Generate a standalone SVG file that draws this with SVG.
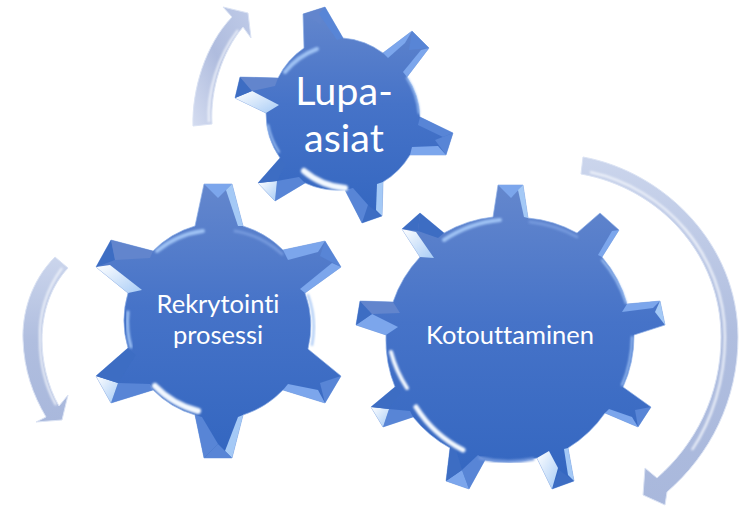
<svg xmlns="http://www.w3.org/2000/svg" width="755" height="506" viewBox="0 0 755 506">
<style>
.body{fill:url(#gearFill);stroke:#8fb0e6;stroke-width:.7}
.w{fill:url(#whiteFacet)}
.l{fill:#7ba6ec}
.p{fill:#a4c9f6}
.m{fill:#5885d6}
.u{fill:#6285cd}
.d{fill:#3d6dc3}
.rim{fill:none;stroke-linecap:round;filter:url(#soft)}
.rw{stroke:#f2f8ff}
.rl{stroke:#9fc2f4}
.rm{stroke:#7499dd}
.arrow{stroke:#dbe3f4;stroke-width:1}
.glow{fill:none;stroke:#f3f6fc;stroke-width:2;filter:url(#soft)}
text{font-family:"Lato","Liberation Sans",sans-serif;fill:#fff;text-anchor:middle;font-variant-ligatures:none}
.t{font-size:25.5px}
</style>
<defs>
<linearGradient id="gearFill" x1="0" y1="0" x2="0" y2="1"><stop offset="0" stop-color="#6487cd"/><stop offset=".45" stop-color="#4673c8"/><stop offset="1" stop-color="#3366c0"/></linearGradient>
<linearGradient id="whiteFacet" x1="0" y1="0" x2="1" y2="1"><stop offset="0" stop-color="#ffffff"/><stop offset="1" stop-color="#a8ccf6"/></linearGradient>
<linearGradient id="arrowUp" x1="0" y1="1" x2="1" y2="0"><stop offset="0" stop-color="#d4dcf0"/><stop offset=".5" stop-color="#afbcde"/><stop offset="1" stop-color="#bfcbe8"/></linearGradient>
<linearGradient id="arrowDown" x1="0" y1="0" x2="0" y2="1"><stop offset="0" stop-color="#cbd5ec"/><stop offset=".5" stop-color="#b0bedf"/><stop offset="1" stop-color="#a9b8dc"/></linearGradient>
<filter id="soft" x="-30%" y="-30%" width="160%" height="160%"><feGaussianBlur stdDeviation=".8"/></filter>
<filter id="tiny" x="-5%" y="-5%" width="110%" height="110%"><feGaussianBlur stdDeviation=".35"/></filter>
</defs>
<g id="connectors">
<g id="arrow-top">
<path class="arrow" fill="url(#arrowUp)" d="M193,126C192,90 205,45 232,17L223,7L248,13L251,38L243,27C222,52 210,90 212,124Z"/>
<path class="glow" d="M209,122C207,92 218,56 238,30"/>
</g>
<g id="arrow-left">
<path class="arrow" fill="url(#arrowDown)" d="M55,257C30,282 22,315 23,340C24,370 33,395 46,417L36,422L62,420L68,395L59,406C47,385 42,360 42,340C42,310 52,285 68,268Z"/>
<path class="glow" d="M62,268C46,290 39,315 40,340C40,362 45,385 56,405"/>
</g>
<g id="arrow-right">
<path class="arrow" fill="url(#arrowDown)" d="M583,157C665,172 738,245 738,337C738,400 710,455 667,492L665,505L643,495L645,468L657,478C695,445 721,395 721,337C721,255 660,188 581,174Z"/>
<path class="glow" d="M590,172C665,188 725,255 725,337C725,380 712,420 692,450"/>
</g>
</g>
<g id="gear-lupa">
<path class="body" d="M304,48L303,14L325,7L343,38A78,78 0 0 1 383,53L412,31L429,48L407,77A78,78 0 0 1 420,117L453,133L446,155L410,155A78,78 0 0 1 383,182L382,216L362,223L345,190A78,78 0 0 1 305,183L275,201L258,183L280,158A78,78 0 0 1 266,113L235,98L240,77L278,78A78,78 0 0 1 304,48Z"/>
<g filter="url(#tiny)">
<polygon class="u" points="303,14 325,7 320,24"/><polygon class="m" points="325,7 319,14 337,40 343,38"/>
<polygon class="l" points="412,31 405,43 388,58 383,53"/><polygon class="m" points="412,31 429,48 409,50"/><polygon class="l" points="429,48 421,50 403,72 407,77"/>
<polygon class="m" points="453,133 443,137 418,125 420,117"/><polygon class="m" points="453,133 446,155 435,140"/><polygon class="l" points="446,155 438,146 412,147 410,155"/>
<polygon class="p" points="382,216 376,210 377,184 383,182"/><polygon class="d" points="382,216 362,223 368,205"/><polygon class="m" points="362,223 368,205 353,188 345,190"/>
<polygon class="m" points="275,201 277,181 299,177 305,183"/><polygon class="w" points="275,201 258,183 277,181"/><polygon class="d" points="258,183 277,181 286,164 280,158"/>
<polygon class="w" points="235,98 252,91 279,105 266,113"/><polygon class="d" points="235,98 240,77 252,91"/><polygon class="u" points="240,77 252,91 275,86 278,78"/>
</g>
<path class="rim rl" stroke-width="4" d="M285,72A74,74 0 0 1 317,49"/>
<path class="rim rl" stroke-width="2" d="M407,78A76,76 0 0 1 419,113"/>
<path class="rim rw" stroke-width="6" d="M304,171A72,72 0 0 0 345,188"/>
<path class="rim rl" stroke-width="2" d="M268,125A76,76 0 0 0 279,152"/>
<text x="344" y="105" font-size="39.5">Lupa-</text>
<text x="344" y="152" font-size="39.5">asiat</text>
</g>
<g id="gear-rekrytointi">
<path class="body" d="M195,226L204,184L232,184L243,226A96,96 0 0 1 283,250L325,241L341,267L305,293A96,96 0 0 1 308,349L341,376L325,403L283,390A96,96 0 0 1 243,415L232,458L204,458L195,415A96,96 0 0 1 153,390L111,403L96,376L128,348A96,96 0 0 1 128,293L96,267L111,240L153,251A96,96 0 0 1 195,226Z"/>
<g filter="url(#tiny)">
<polygon class="l" points="204,184 232,184 218,198"/><polygon class="p" points="232,184 226,190 238,226 243,226"/>
<polygon class="l" points="283,250 325,241 318,252 288,260"/><polygon class="m" points="325,241 341,267 320,256"/><polygon class="l" points="341,267 332,263 300,289 305,293"/>
<polygon class="m" points="341,376 325,403 320,383"/><polygon class="l" points="325,403 318,390 288,384 283,390"/>
<polygon class="p" points="232,458 225,451 238,417 243,415"/><polygon class="m" points="232,458 204,458 218,444"/><polygon class="m" points="204,458 218,444 202,417 195,415"/>
<polygon class="m" points="111,403 118,383 150,384 153,390"/><polygon class="w" points="111,403 96,376 118,383"/><polygon class="d" points="96,376 118,383 136,355 128,348"/>
<polygon class="w" points="96,267 110,265 142,290 128,293"/><polygon class="d" points="96,267 111,240 115,260"/><polygon class="u" points="111,240 115,260 150,258 153,251"/>
</g>
<path class="rim rl" stroke-width="4" d="M157,251A92,92 0 0 1 203,231"/>
<path class="rim rm" stroke-width="3" d="M235,231A92,92 0 0 1 282,254"/>
<path class="rim rl" stroke-width="2" d="M308,295A93,93 0 0 1 312,345"/>
<path class="rim rw" stroke-width="6" d="M155,386A92,92 0 0 0 198,411"/>
<path class="rim rl" stroke-width="3" d="M128,312A92,92 0 0 0 131,347"/>
<text class="t" x="218" y="313">Rekrytointi</text>
<text class="t" x="218" y="344">prosessi</text>
</g>
<g id="gear-kotouttaminen">
<path class="body" d="M493,217L498,185L523,185L528,218A124,124 0 0 1 577,233L600,213L619,230L602,257A124,124 0 0 1 627,304L660,301L665,325L634,335A124,124 0 0 1 623,387L651,407L638,427L605,413A124,124 0 0 1 568,448L574,481L552,489L537,458A124,124 0 0 1 485,460L469,489L446,481L450,448A124,124 0 0 1 413,417L383,427L371,407L395,387A124,124 0 0 1 386,335L356,325L360,301L393,302A124,124 0 0 1 420,257L402,229L420,213L444,233A124,124 0 0 1 493,217Z"/>
<g filter="url(#tiny)">
<polygon class="l" points="498,185 523,185 511,198"/><polygon class="p" points="523,185 518,190 524,217 528,218"/>
<polygon class="l" points="619,230 612,231 598,255 602,257"/>
<polygon class="l" points="660,301 653,308 622,312 627,304"/><polygon class="p" points="660,301 665,325 655,312"/>
<polygon class="m" points="651,407 638,427 635,410"/><polygon class="l" points="638,427 632,417 609,409 605,413"/>
<polygon class="p" points="574,481 568,475 564,449 568,448"/><polygon class="d" points="574,481 552,489 559,470"/><polygon class="w" points="552,489 558,468 549,451 537,458"/>
<polygon class="m" points="469,489 462,470 478,455 485,460"/><polygon class="l" points="469,489 446,481 462,470"/><polygon class="d" points="446,481 462,470 455,446 450,448"/>
<polygon class="m" points="383,427 389,409 410,411 413,417"/><polygon class="w" points="383,427 371,407 389,409"/><polygon class="d" points="371,407 389,409 401,392 395,387"/>
<polygon class="l" points="356,325 372,314 398,327 386,335"/><polygon class="d" points="356,325 360,301 372,314"/><polygon class="u" points="360,301 372,314 400,313 393,302"/>
<polygon class="w" points="402,229 416,232 434,258 420,257"/><polygon class="d" points="402,229 420,213 418,231"/><polygon class="d" points="420,213 418,231 438,238 444,233"/>
</g>
<path class="rim rl" stroke-width="4" d="M444,240A120,120 0 0 1 500,220"/>
<path class="rim rm" stroke-width="3" d="M530,222A120,120 0 0 1 577,237"/>
<path class="rim rl" stroke-width="2" d="M602,260A122,122 0 0 1 626,303"/>
<path class="rim rl" stroke-width="2" d="M632,337A122,122 0 0 1 622,385"/>
<path class="rim rw" stroke-width="4" d="M391,352A120,120 0 0 0 407,388"/>
<path class="rim rw" stroke-width="5" d="M416,407A120,120 0 0 0 463,450"/>
<path class="rim rm" stroke-width="3" d="M480,458A120,120 0 0 0 533,459"/>
<text class="t" x="510" y="344">Kotouttaminen</text>
</g>
</svg>
